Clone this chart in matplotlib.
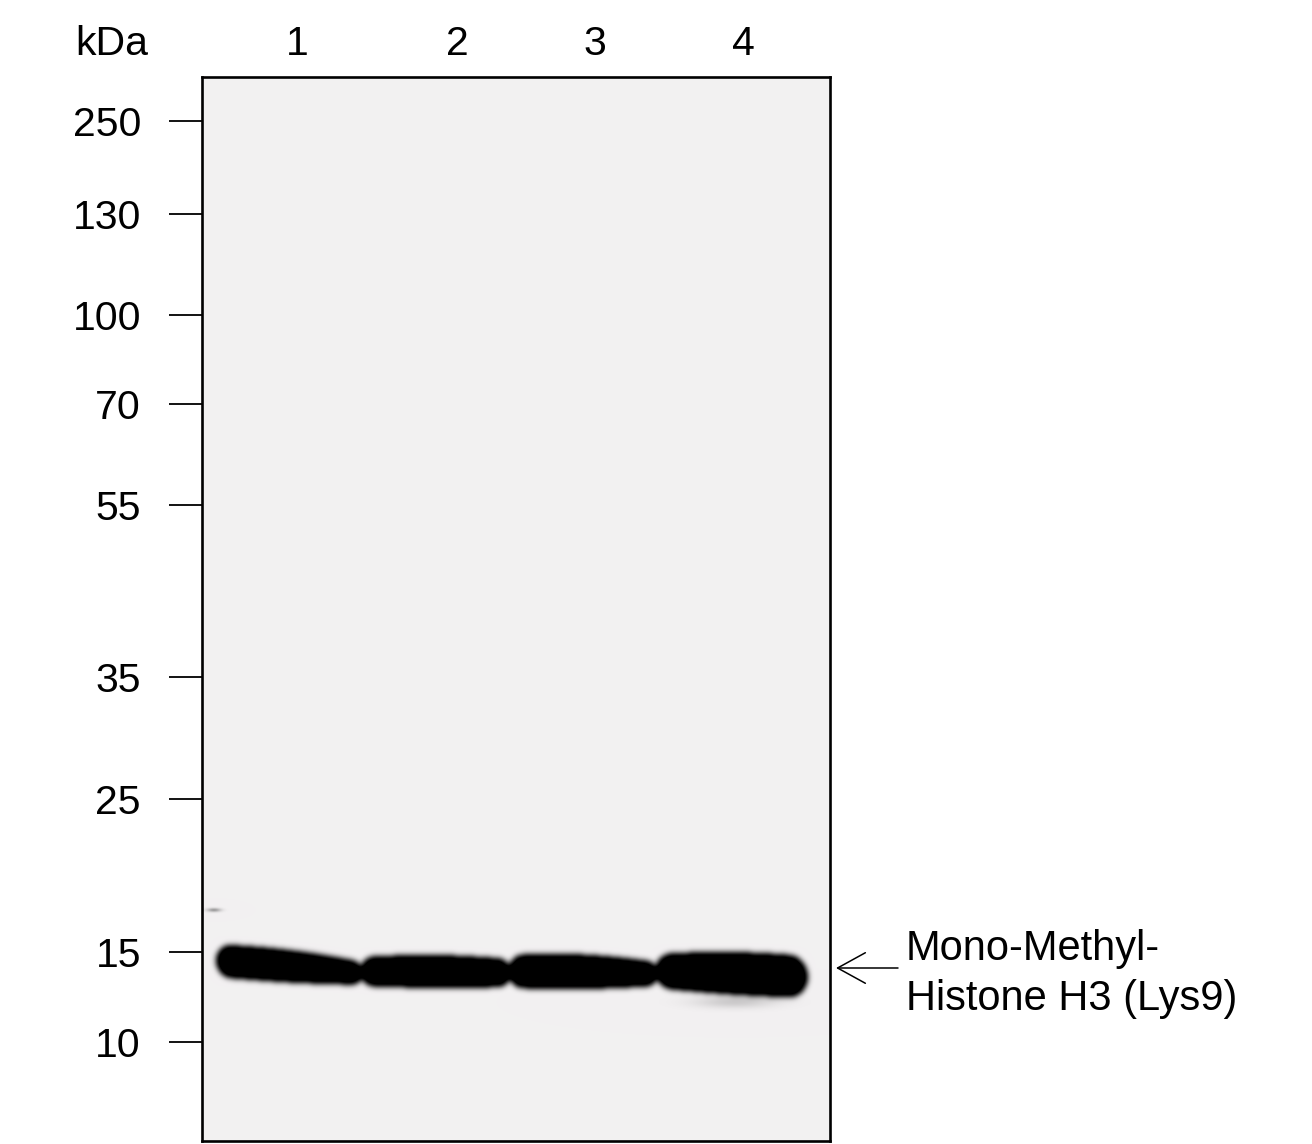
import matplotlib.pyplot as plt
import numpy as np

plt.rcParams['font.family'] = ['Liberation Sans', 'DejaVu Sans']

# marker ladder (kDa) and migration position on the membrane (px from top of image)
marker_kda = [250, 130, 100, 70, 55, 35, 25, 15, 10]
marker_pos = [121, 214, 315, 404, 505, 677, 799, 952, 1042]

lane_labels = ['1', '2', '3', '4']
lane_label_x = [297, 457, 595, 743]

# band outline per lane: x start, x end, top (left, right), bottom (left, right)
band_x0 = [216, 360, 508, 655]
band_x1 = [363, 511, 658, 808]
band_top_l = [944, 957, 955, 954]
band_top_r = [962, 959, 962, 956]
band_bot_l = [977, 986, 988, 988]
band_bot_r = [985, 987, 986, 998]
band_arch = [3, 3, 4, 3]

target_name = 'Mono-Methyl-\nHistone H3 (Lys9)'
target_pos = 968

# membrane extent in image px
mem_x0, mem_x1 = 202, 830
mem_y0, mem_y1 = 77, 1141
bg = np.array([243, 241, 242]) / 255


def blur(a, sigma):
    r = int(3 * sigma)
    k = np.exp(-0.5 * (np.arange(-r, r + 1) / sigma) ** 2)
    k /= k.sum()
    a = np.apply_along_axis(lambda v: np.convolve(v, k, mode='same'), 0, a)
    a = np.apply_along_axis(lambda v: np.convolve(v, k, mode='same'), 1, a)
    return a


ys = np.arange(mem_y0, mem_y1) + 0.5
xs = np.arange(mem_x0, mem_x1) + 0.5
X, Y = np.meshgrid(xs, ys)
dens = np.zeros_like(X)

for x0, x1, tl, tr, bl, br, arch in zip(band_x0, band_x1, band_top_l, band_top_r,
                                         band_bot_l, band_bot_r, band_arch):
    t = np.clip((X - x0) / (x1 - x0), 0, 1)
    top = tl + (tr - tl) * t - arch * np.sin(np.pi * t)
    bot = bl + (br - bl) * t + 0.5 * arch * np.sin(np.pi * t)
    mid = (top + bot) / 2
    half = (bot - top) / 2
    # rounded ends
    d = np.minimum(X - x0, x1 - X)
    r = half * 0.9
    shrink = np.where(d < r, np.sqrt(np.clip(1 - ((r - d) / r) ** 2, 0, 1)), 1.0)
    inside = (np.abs(Y - mid) <= half * shrink) & (X >= x0) & (X <= x1)
    dens = np.maximum(dens, inside.astype(float))

dens = blur(dens, 2.8)
dens = np.clip(dens * 1.15, 0, 1)
# faint smear under lane 4 and small speck at top left
dens += 0.16 * np.exp(-(((X - 735) / 40) ** 2 + ((Y - 1002) / 6) ** 2))
dens += 0.35 * np.exp(-(((X - 214) / 7) ** 2 + ((Y - 910) / 2) ** 2))
dens = np.clip(dens, 0, 1)
img = bg[None, None, :] * (1 - dens[..., None])

fig = plt.figure(figsize=(13.12, 11.44), dpi=100)
W, H = 1312, 1144
ax = fig.add_axes([mem_x0 / W, 1 - mem_y1 / H, (mem_x1 - mem_x0) / W, (mem_y1 - mem_y0) / H])
ax.imshow(img, extent=[mem_x0, mem_x1, mem_y1, mem_y0], interpolation='bilinear', aspect='auto')
ax.set_xlim(mem_x0, mem_x1)
ax.set_ylim(mem_y1, mem_y0)

for s in ax.spines.values():
    s.set_linewidth(1.9)

ax.set_yticks(marker_pos)
ax.set_yticklabels([str(m) for m in marker_kda], fontsize=29.5)
ax.tick_params(axis='y', length=24, width=1.3, pad=20)

ax.xaxis.tick_top()
ax.set_xticks(lane_label_x)
ax.set_xticklabels(lane_labels, fontsize=29.5)
ax.tick_params(axis='x', length=0, pad=10)

fig.text(112 / W, 1 - 44 / H, 'kDa', fontsize=29.5, ha='center', va='center')

ax.annotate('', xy=(836, target_pos), xytext=(898, target_pos), xycoords='data',
            annotation_clip=False,
            arrowprops=dict(arrowstyle='->,head_length=1.0,head_width=0.55',
                            mutation_scale=20, lw=1.1, color='black',
                            shrinkA=0, shrinkB=0))
ax.text(906, target_pos + 6, target_name, fontsize=30, ha='left', va='center',
        linespacing=1.32, clip_on=False)

fig.savefig('out.png', dpi=100)
